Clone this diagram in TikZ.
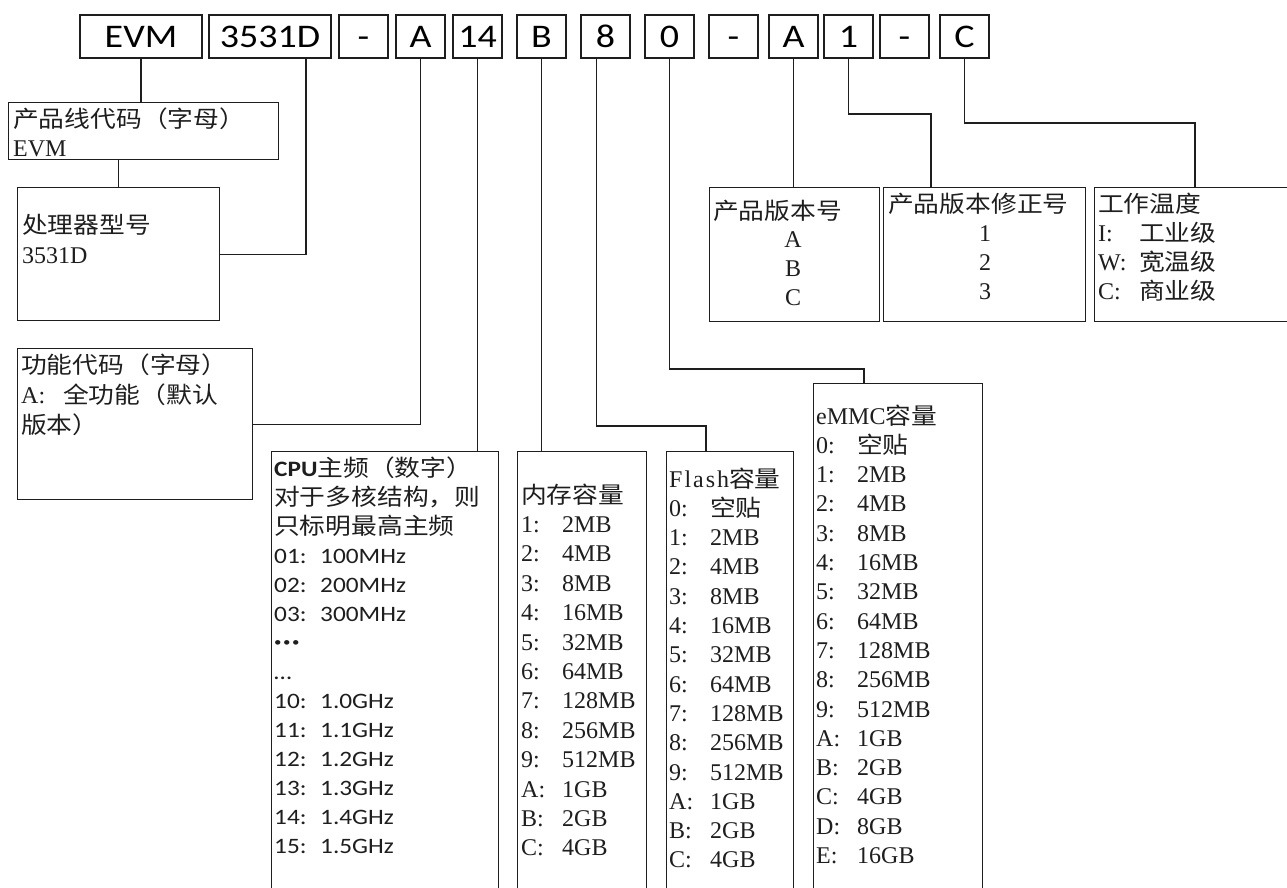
\documentclass[tikz,border=0pt]{standalone}
\usepackage{fontspec}
\setmainfont{Liberation Serif}
\newfontfamily\zhfont[FakeStretch=1.12]{Noto Sans CJK SC}
\newfontfamily\cbfont[FakeStretch=1.15]{Carlito}
\usepackage{tikz}
\usetikzlibrary{calc}
\usetikzlibrary{positioning}
\definecolor{inkgray}{RGB}{30, 30, 30}
\newcommand\zh[1]{{\zhfont\fontsize{23}{29}\selectfont #1}}
\newcommand\kv[3][41pt]{\makebox[#1][l]{#2:}#3}
\newcommand\middots{\raisebox{4pt}{\fontsize{13}{13}\selectfont •\kern1.5pt•\kern1.5pt•}}

\begin{document}
\begin{tikzpicture}[x=1pt, y=-1pt,
    code/.style  ={draw=inkgray, line width=1.3pt, minimum height=43pt, inner sep=0pt,
                   text height=21pt, text depth=0pt, font=\cbfont\fontsize{33}{33}\selectfont},
    field/.style ={draw=inkgray, line width=1.3pt, anchor=north west, inner sep=0pt},
    entry/.style ={anchor=base west, inner sep=0pt, text=inkgray, font=\fontsize{24}{29}\selectfont},
    mid/.style   ={anchor=base, inner sep=0pt, text=inkgray, font=\fontsize{24}{29}\selectfont},
    cpu/.style   ={anchor=base west, inner sep=0pt, text=inkgray, font=\cbfont\fontsize{22}{29}\selectfont},
    link/.style  ={draw=inkgray, line width=1.3pt}]
    \useasboundingbox (0,0) rectangle (1287,887);
    \clip (0,0) rectangle (1287,887);

    \foreach \x/\w/\t/\n in {141/122/EVM/cEVM, 270/122/3531D/c3531, 363.5/49/-/cDash1, 420.5/49/A/cA,
                             477.5/49/14/c14, 541.5/49/B/cB, 605.5/49/8/c8, 669.5/49/0/c0,
                             733.5/49/-/cDash2, 793.5/49/A/cA2, 848.5/49/1/c1, 904.5/49/-/cDash3, 964.5/49/C/cC}
        \node[code, minimum width=\w*1pt] (\n) at (\x, 36.5) {\t};

    \node[field, minimum width=270pt, minimum height=57pt]  (bLine)  at (   8, 102) {};
    \node[field, minimum width=202pt, minimum height=133pt] (bProc)  at (  17, 187) {};
    \node[field, minimum width=235pt, minimum height=151pt] (bFunc)  at (  17, 348) {};
    \node[field, minimum width=227pt, minimum height=470pt] (bCPU)   at ( 271, 451) {};
    \node[field, minimum width=129pt, minimum height=470pt] (bMem)   at ( 517, 451) {};
    \node[field, minimum width=127pt, minimum height=470pt] (bFlash) at ( 666, 451) {};
    \node[field, minimum width=169pt, minimum height=540pt] (bEmmc)  at ( 813, 383) {};
    \node[field, minimum width=170pt, minimum height=134pt] (bVer)   at ( 709, 187) {};
    \node[field, minimum width=202pt, minimum height=134pt] (bRev)   at ( 883, 187) {};
    \node[field, minimum width=230pt, minimum height=134pt] (bTemp)  at (1094, 187) {};

    \coordinate (k8) at (706, 426);
    \coordinate (k0) at (864, 369);
    \coordinate (k1) at (931, 114);
    \coordinate (kC) at (1195, 123);

    \draw[link] (cEVM.south) -- (cEVM.south |- bLine.north);
    \draw[link] (bProc.north) -- (bProc.north |- bLine.south);
    \draw[link] ([xshift=36pt]c3531.south) |- (bProc.east);
    \draw[link] (cA.south) |- (bFunc.east);
    \draw[link] (c14.south) -- (c14.south |- bCPU.north);
    \draw[link] (cB.south) -- (cB.south |- bMem.north);
    \draw[link] ([xshift=-9pt]c8.south) |- (k8) -- (k8 |- bFlash.north);
    \draw[link] (c0.south) |- (k0) -- (k0 |- bEmmc.north);
    \draw[link] (cA2.south) -- (cA2.south |- bVer.north);
    \draw[link] (c1.south) |- (k1) -- (k1 |- bRev.north);
    \draw[link] (cC.south) |- (kC) -- (kC |- bTemp.north);

    \node[entry] (line-0) at (13, 127) {\zh{产品线代码（字母）}};
    \node[entry] (line-1) at (13, 156) {EVM};
    \node[entry] (proc-0) at (22, 233) {\zh{处理器型号}};
    \node[entry] (proc-1) at (22, 263) {3531D};
    \node[entry] (func-0) at (21, 373) {\zh{功能代码（字母）}};
    \node[entry] (func-1) at (21, 403) {\kv[42pt]{A}{\zh{全功能（默认}}};
    \node[entry] (func-2) at (21, 433) {\zh{版本）}};

    \foreach \t [count=\i from 0] in {{\textbf{CPU}\zh{主频（数字）}}, {\zh{对于多核结构，则}}, {\zh{只标明最高主频}},
                                      {\kv[46pt]{01}{100MHz}}, {\kv[46pt]{02}{200MHz}}, {\kv[46pt]{03}{300MHz}},
                                      {\middots}, {…},
                                      {\kv[46pt]{10}{1.0GHz}}, {\kv[46pt]{11}{1.1GHz}}, {\kv[46pt]{12}{1.2GHz}},
                                      {\kv[46pt]{13}{1.3GHz}}, {\kv[46pt]{14}{1.4GHz}}, {\kv[46pt]{15}{1.5GHz}}}
        \node[cpu] (cpu-\i) at (274, {476+29*\i}) {\t};

    \foreach \t [count=\i from 0] in {{\zh{内存容量}}, {\kv{1}{2MB}}, {\kv{2}{4MB}}, {\kv{3}{8MB}}, {\kv{4}{16MB}},
                                      {\kv{5}{32MB}}, {\kv{6}{64MB}}, {\kv{7}{128MB}}, {\kv{8}{256MB}}, {\kv{9}{512MB}},
                                      {\kv{A}{1GB}}, {\kv{B}{2GB}}, {\kv{C}{4GB}}}
        \node[entry] (mem-\i) at (521, {503+29.4*\i}) {\t};

    \foreach \t [count=\i from 0] in {{F\kern2pt l\kern2pt a\kern2pt s\kern2pt h\zh{容量}}, {\kv{0}{\zh{空贴}}}, {\kv{1}{2MB}},
                                      {\kv{2}{4MB}}, {\kv{3}{8MB}}, {\kv{4}{16MB}}, {\kv{5}{32MB}}, {\kv{6}{64MB}},
                                      {\kv{7}{128MB}}, {\kv{8}{256MB}}, {\kv{9}{512MB}}, {\kv{A}{1GB}}, {\kv{B}{2GB}}, {\kv{C}{4GB}}}
        \node[entry] (flash-\i) at (669, {487+29.3*\i}) {\t};

    \foreach \t [count=\i from 0] in {{eMMC\zh{容量}}, {\kv{0}{\zh{空贴}}}, {\kv{1}{2MB}}, {\kv{2}{4MB}}, {\kv{3}{8MB}},
                                      {\kv{4}{16MB}}, {\kv{5}{32MB}}, {\kv{6}{64MB}}, {\kv{7}{128MB}}, {\kv{8}{256MB}},
                                      {\kv{9}{512MB}}, {\kv{A}{1GB}}, {\kv{B}{2GB}}, {\kv{C}{4GB}}, {\kv{D}{8GB}}, {\kv{E}{16GB}}}
        \node[entry] (emmc-\i) at (816, {424+29.3*\i}) {\t};

    \node[entry] (ver-0) at (713, 219) {\zh{产品版本号}};
    \foreach \t [count=\i] in {A, B, C}
        \node[mid] (ver-\i) at (793, {219+28.7*\i}) {\t};
    \node[entry] (rev-0) at (888, 212) {\zh{产品版本修正号}};
    \foreach \t [count=\i] in {1, 2, 3}
        \node[mid] (rev-\i) at (985, {212+29*\i}) {\t};
    \node[entry] (temp-0) at (1098, 212) {\zh{工作温度}};
    \node[entry] (temp-1) at (1098, 241) {\kv{I}{\zh{工业级}}};
    \node[entry] (temp-2) at (1098, 270) {\kv{W}{\zh{宽温级}}};
    \node[entry] (temp-3) at (1098, 299) {\kv{C}{\zh{商业级}}};
\end{tikzpicture}
\end{document}
